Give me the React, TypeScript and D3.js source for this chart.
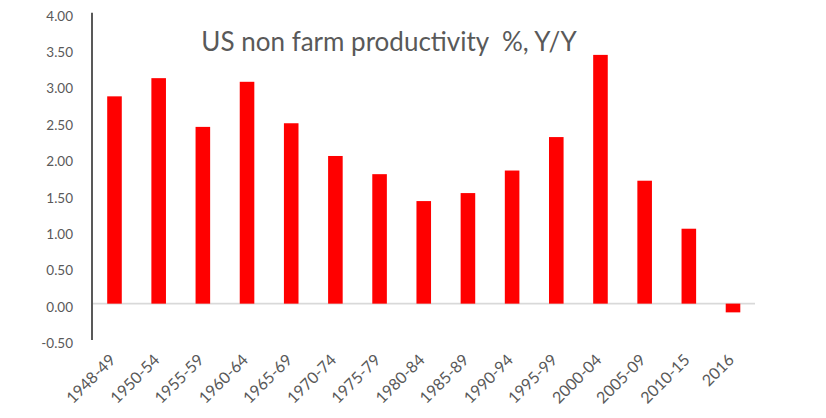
import React from "react";
import * as d3 from "d3";

const categories = ["1948-49","1950-54","1955-59","1960-64","1965-69","1970-74","1975-79","1980-84","1985-89","1990-94","1995-99","2000-04","2005-09","2010-15","2016"];
const values = [2.85, 3.1, 2.43, 3.05, 2.48, 2.03, 1.78, 1.41, 1.52, 1.83, 2.29, 3.42, 1.69, 1.03, -0.12];
const yTicks = [-0.5, 0, 0.5, 1, 1.5, 2, 2.5, 3, 3.5, 4];
const title = "US non farm productivity  %, Y/Y";

const W = 826, H = 418;
const FONT = "Lato, 'Open Sans', sans-serif";
const TEXT = "#595959";

export default function App() {
  const x = d3.scaleBand<string>().domain(categories).range([92.4, 755.1]).paddingInner(0.67).paddingOuter(0.335);
  const y = d3.scaleLinear().domain([-0.5, 4]).range([340, 12.7]);
  const fmt = d3.format(".2f");
  return (
    <div style={{ position: "absolute", left: 0, top: 0 }}>
      <svg width={W} height={H} style={{ display: "block", background: "#fff" }}>
        <line x1={92} x2={755} y1={y(0)} y2={y(0)} stroke="#d9d9d9" strokeWidth={1.6} />
        {categories.map((c, i) => {
          const v = values[i];
          return (
            <rect key={c} x={x(c)} width={x.bandwidth()} y={y(Math.max(0, v))} height={Math.abs(y(v) - y(0))} fill="#ff0000" />
          );
        })}
        <line x1={92} x2={92} y1={12.7} y2={340} stroke="#595959" strokeWidth={2} />
        {yTicks.map((t) => (
          <text key={t} x={73} y={y(t) + 3} textAnchor="end" dominantBaseline="central" fontFamily={FONT} fontSize={13.5} fill={TEXT}>
            {fmt(t).replace("\u2212", "-")}
          </text>
        ))}
        {categories.map((c) => {
          const cx = (x(c) as number) + x.bandwidth() / 2 + 2;
          const cy = 361;
          return (
            <text key={c} x={cx} y={cy} textAnchor="end" transform={`rotate(-45 ${cx} ${cy})`} fontFamily={FONT} fontSize={16} fill={TEXT}>
              {c}
            </text>
          );
        })}
        <text x={389} y={50.5} textAnchor="middle" fontFamily={FONT} fontSize={26} fill={TEXT} style={{ whiteSpace: "pre" }}>
          {title}
        </text>
      </svg>
    </div>
  );
}
